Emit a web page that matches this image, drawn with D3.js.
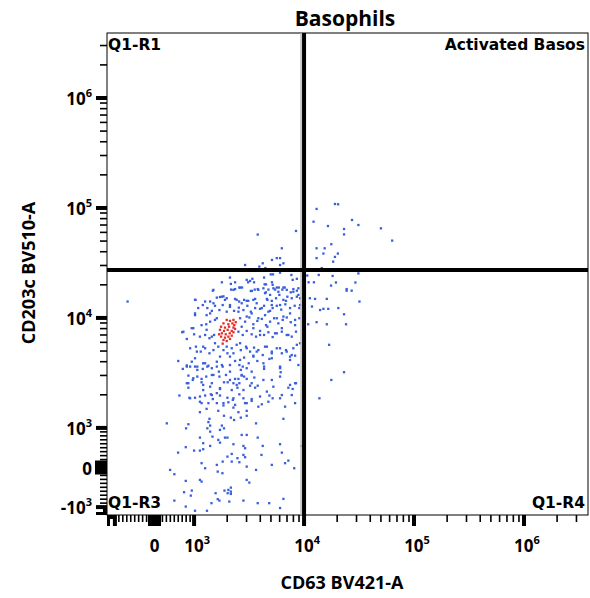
<!DOCTYPE html>
<html>
<head>
<meta charset="utf-8">
<script src="https://cdn.jsdelivr.net/npm/d3@7"></script>
<style>
  body { margin: 0; background: #fff; }
  text { font-family: "Open Sans", sans-serif; font-weight: 700; fill: #000; }
  .qlabel { font-family: "DejaVu Sans", sans-serif; font-size: 15.5px; }
</style>
</head>
<body>
<div id="chart-area"></div>
<script>
// SVG size
var width = 590,
    height = 598;

var plot = {left: 107, right: 588, top: 33, bottom: 515};

// Axis limits (raw intensity) and gates
var xLimits = [-1180, 3.82e6];
var yLimits = [-1180, 3.9e6];
var gateX = 10000;
var gateY = 27300;

var title = "Basophils";
var xTitle = "CD63 BV421-A";
var yTitle = "CD203c BV510-A";

// Tick labels
var xTickLabels = [
    {v: 0, base: "0", sup: ""},
    {v: 1e3, base: "10", sup: "3"},
    {v: 1e4, base: "10", sup: "4"},
    {v: 1e5, base: "10", sup: "5"},
    {v: 1e6, base: "10", sup: "6"}
];
var yTickLabels = [
    {v: -1e3, base: "-10", sup: "3"},
    {v: 0, base: "0", sup: ""},
    {v: 1e3, base: "10", sup: "3"},
    {v: 1e4, base: "10", sup: "4"},
    {v: 1e5, base: "10", sup: "5"},
    {v: 1e6, base: "10", sup: "6"}
];
var majorTicks = [-1000, 1000, 1e4, 1e5, 1e6];

// Quadrant names
var quadrants = [
    {name: "Q1-R1", corner: "tl"},
    {name: "Activated Basos", corner: "tr"},
    {name: "Q1-R3", corner: "bl"},
    {name: "Q1-R4", corner: "br"}
];

// Events [CD63, CD203c]
var blueCells = [
  [19100,108700],[20400,108000],[13000,98000],[12200,75000],[27300,77800],[16500,68500],[31200,70000],[50000,65300],
  [23100,64400],[23100,57500],[63300,50500],[8450,61800],[3790,57300],[17700,46800],[6280,43000],[13000,43000],
  [15400,43000],[15000,38500],[20300,38500],[19100,35900],[13000,35000],[18400,32500],[5650,35000],[6050,35000],
  [5110,33700],[4210,31400],[6490,31400],[6050,30300],[2910,30300],[3920,29300],[4450,28400],[14500,28400],
  [5220,24900],[4980,24900],[6050,25800],[7670,24600],[10700,24300],[13600,24600],[18200,24100],[31200,25400],
  [4330,23300],[2120,23300],[3010,22200],[3230,21700],[3390,22700],[3510,21100],[3100,21100],[7880,22200],
  [8600,22700],[1790,21100],[2160,20400],[2360,21100],[4380,20200],[4510,20200],[5110,21100],[5180,20000],
  [11000,21100],[12300,21100],[19500,21000],[29300,21000],[17600,19700],[5650,18900],[5890,18900],[2580,18900],
  [2730,18900],[6490,18900],[24400,18300],[3790,18300],
  [-680,14100],[1480,17700],[2170,18100],[2360,18300],[3280,17600],[3560,18100],[4270,18600],[4490,17100],
  [4740,18100],[5450,18100],[6350,18100],[6670,18900],[7570,17100],[7990,18300],[8600,17700],[24400,17700],
  [27100,17700],[11300,15100],[12600,14900],[16100,14900],[31900,14100],[1030,14600],[1260,14100],[1400,14100],
  [1500,13600],[1610,15300],[1720,15500],[1850,15700],[1980,15100],[2360,14900],[2570,14100],[2850,14600],
  [3110,14300],[3460,14600],[3710,13600],[4590,14900],[4910,16200],[5090,14300],[5560,15100],[5960,16200],
  [6490,14600],[7050,15600],[7730,15100],[8600,15600],[9200,15100],[11800,12700],[14000,11800],[15000,12100],
  [16600,12100],[20500,12300],[23100,10800],[1020,10600],[1090,12300],[1200,13100],[1320,12300],[1400,11000],
  [1550,12900],[1700,11800],[1820,13100],[1980,11400],[2120,12600],[2310,11600],[2550,12400],[2810,11800],
  [3050,12900],[3280,11400],[3590,12300],[3980,12100],[4330,12900],[4740,11400],[5180,12300],[5650,12900],
  [6200,11900],[6760,13300],[7460,12300],[8220,12900],[9060,12300],[940,8070],[1170,8600],[1290,8760],
  [1400,9250],[1550,9600],[2620,9940],[2910,9250],[3180,10100],[3460,8760],[3760,9400],[4130,9800],
  [4510,8600],[4910,9250],[5340,9940],[5840,8930],[6400,9600],[6960,10100],[7570,9150],[8290,8600],
  [9060,9940],[10900,8760],[13000,9150],[16100,8760],[24100,8760],[700,7410],[816,6440],[1000,7100],
  [1130,6760],[1260,7000],[1380,6540],[1520,7000],[2530,7500],[2770,7000],[3010,7620],[3340,7100],
  [3660,6760],[3980,7620],[4330,7000],[4740,7410],[5180,6700],[5650,7250],[6280,7500],[6960,7000],
  [7730,6760],[8450,7500],[16900,5700],[900,5300],[1040,5480],[1150,4940],[1260,5300],[1380,4770],
  [1500,5100],[1660,5480],[1850,5100],[2010,4770],[2200,5300],[2440,5700],[2660,5100],[2970,5480],
  [3230,4940],[3510,5370],[3840,5100],[4210,4600],[4590,5480],[5090,4940],[5650,5300],[6280,4770],
  [6850,5100],[7730,4600],[8600,5700],[600,4060],[816,3700],[942,4000],[1070,3610],[1210,3870],
  [1350,3680],[1610,4000],[1790,3730],[2120,4450],[2360,4060],[2580,3730],[2850,4360],[3140,3870],
  [3460,4540],[3760,4060],[4330,3610],[4840,4240],[6050,3610],[7460,4450],[8290,4540],
  [715,3440],[900,3610],[1020,3610],[1070,3370],[1200,3440],[1320,3610],[1450,3490],[1610,3610],
  [1680,3250],[1820,3610],[2120,3250],[2660,3370],[2770,3610],[3340,3250],[4330,3440],[6050,3540],
  [6130,3210],[23100,3210],[856,2990],[1070,2930],[1170,2790],[1290,2930],[1450,3030],[1700,2930],
  [1950,3030],[2360,2790],[2530,2790],[2710,2990],[2850,2930],[3010,2790],[3530,2870],[856,2550],
  [967,2730],[1170,2600],[1450,2550],[1870,2600],[2020,2600],[2280,2550],[2580,2550],[5090,2730],
  [8450,2550],[17700,2730],[856,2320],[1210,2210],[1400,2370],[1720,2260],[2200,2210],[2480,2320],
  [2810,2210],[3230,2420],[3590,2320],[3790,2420],[7200,2320],[7880,2260],[629,1970],[881,1880],
  [1020,1880],[1130,1930],[1260,1970],[1420,2020],[1480,1830],[1610,2070],[1720,1970],[2010,1880],
  [2250,1800],[2580,2020],[2810,1860],[3340,1830],[4590,2140],[4840,1970],[5180,1860],[6280,1990],
  [7730,1990],[13800,1860],[1170,1680],[1350,1680],[1610,1680],[1850,1600],[2050,1710],[2360,1620],
  [2910,1680],[3340,1760],[3840,1560],[4130,1640],[6720,1560],[1130,1390],[1300,1490],[1660,1430],
  [2280,1530],[3010,1430],[2530,1390],[1380,1210],[1870,1290],[2160,1240],[2310,1180],[2660,1240],
  [3010,1290],[6490,1210],[311,1100],[856,1080],[798,990],[1350,1130],[1400,1050],[1320,990],
  [1790,1050],[1870,990],[1720,950],[3660,1100],[1400,906],[2710,823],[3010,823],[1130,755],
  [1470,780],[1660,697],[1910,755],[2010,755],[3790,755],[1210,614],[2280,588],[6050,588],
  [1400,545],[1720,629],[2810,545],[2910,487],[4210,545],[6280,376],[9500,545],[790,513],
  [1000,427],[1130,427],[1210,462],[596,376],[2010,275],[2200,343],[2480,235],[2810,318],
  [2910,260],[4100,318],[1170,109],[1610,66],[1820,149],[2200,149],[2580,134],[3010,23],
  [5090,66],[6720,109],[7200,174],[8140,-18],[394,-61],[502,-169],[1260,-18],[1640,-104],
  [1810,-144],[3660,-61],[790,-338],[1130,-313],[1170,-356],[3010,-313],[3180,-381],[747,-624],
  [942,-583],[917,-710],[1570,-649],[1890,-583],[2050,-566],[2160,-508],[2160,-609],[2160,-667],
  [2020,-649],[502,-836],[1640,-800],[1700,-836],[2090,-861],[2810,-836],[3790,-901],[4820,-901],
  [6490,-793],[790,-987],[1020,-1080],[1310,-1080],[1440,-901],[6050,-1020],
  // denser core
  [1500,18000],[2280,18000],[2620,18900],[3350,17600],[3840,18000],[4420,16800],[5260,18600],[5840,17300],
  [6960,18000],[7990,17300],[8880,16200],[8880,18600],[1020,14600],[1790,15600],[1910,14600],[2120,13100],
  [2440,14600],[2710,13600],[3010,14300],[3590,14900],[4130,12300],[4640,14600],[5090,13100],[6050,13100],
  [6850,14300],[9200,13100],[1020,11000],[1300,10600],[1450,11600],[1610,9940],[2530,11400],[3010,10300],
  [3340,11000],[3840,9940],[4420,10600],[4910,11600],[5650,9940],[6490,10300],[7460,11000],[8290,9600],
  [730,7500],[980,8070],[1300,7800],[1450,6760],[2710,8320],[3460,8070],[3980,7000],[4640,8320],
  [5450,7250],[6280,8070],[7200,7000],[1060,4940],[1210,5480],[1550,5890],[1980,5480],[2280,4770],
  [2620,5890],[3010,5300],[3710,4940],[4420,5480],[5090,4770],[6050,5300],[6960,4940],[7990,5300],
  [9200,5890],[816,3610],[1020,4300],[1260,3870],[1720,4450],[2120,3730],[2620,4150],[3010,3490],
  [3460,4450],[4270,3870],[5090,4300],[6050,3490],[7460,4150],[8880,3730],[816,2550],[980,2830],
  [1210,2460],[1500,3030],[1720,2300],[2120,2730],[2440,2460],[2710,3030],[3340,2550],[4270,2730],
  [5260,2370],[6050,2930],[7460,2460],[8290,2550],[900,1860],[1130,1730],[1450,1990],[1850,1680],
  [2280,1860],[3010,1680],[3980,1930],[4740,1730],[6050,1860],[8290,1680]
];

var redCells = [
  [1980,9600],[2120,9400],[2280,9600],[1850,8930],[2050,8760],[2230,8930],[2390,9150],[1760,8320],
  [1910,8170],[2080,8320],[2280,8170],[1720,7800],[1870,7620],[2020,7800],[2200,7620],[2360,7940],
  [1790,7250],[1940,7100],[2110,7250],[2280,7410],[1760,6760],[1910,6620],[2050,6760],[2200,6900],
  [1850,6300],[1980,6170],[1820,5840],[2120,6440],[1690,7100],[2320,8600]
];

// Biexponential-like display transform: linear around zero, log above 10^3
var LIN = 0.36;
function tr(v) {
    var a = Math.abs(v);
    return a <= 1000 ? LIN * v / 1000 : Math.sign(v) * (LIN + Math.log10(a / 1000));
}

var xs = d3.scaleLinear().domain(xLimits.map(tr)).range([plot.left, plot.right]);
var ys = d3.scaleLinear().domain(yLimits.map(tr)).range([plot.bottom, plot.top]);
var x = function(v) { return xs(tr(v)); };
var y = function(v) { return ys(tr(v)); };

// minor tick values: linear between -10^3 and 10^3, log for decades
function minorTicks(lim) {
    var out = [];
    d3.range(-900, 1000, 100).forEach(function(v) { if (v !== 0) out.push(v); });
    [1e3, 1e4, 1e5, 1e6].forEach(function(dec) {
        d3.range(2, 10).forEach(function(k) { if (k * dec < lim) out.push(k * dec); });
    });
    return out;
}

var svg = d3.select("#chart-area")
    .append("svg")
    .attr("width", width)
    .attr("height", height);

// Frame
svg.append("rect")
    .attr("x", plot.left).attr("y", plot.top)
    .attr("width", plot.right - plot.left).attr("height", plot.bottom - plot.top)
    .attr("fill", "none").attr("stroke", "#000").attr("stroke-width", 1);

// Events
var dot = 2.3;
svg.append("g").selectAll("rect")
    .data(blueCells)
    .enter().append("rect")
    .attr("x", d => x(d[0]) - dot / 2)
    .attr("y", d => y(d[1]) - dot / 2)
    .attr("width", dot).attr("height", dot)
    .attr("fill", "#3a5fdc");

svg.append("g").selectAll("rect")
    .data(redCells)
    .enter().append("rect")
    .attr("x", d => x(d[0]) - dot / 2)
    .attr("y", d => y(d[1]) - dot / 2)
    .attr("width", dot).attr("height", dot)
    .attr("fill", "#e2302c");

// Quadrant gates
svg.append("line")
    .attr("x1", x(gateX) - 3).attr("x2", x(gateX) - 3)
    .attr("y1", plot.top).attr("y2", plot.bottom)
    .attr("stroke", "#bbb").attr("stroke-width", 1.5);
svg.append("line")
    .attr("x1", x(gateX)).attr("x2", x(gateX))
    .attr("y1", plot.top).attr("y2", plot.bottom)
    .attr("stroke", "#000").attr("stroke-width", 4);
svg.append("line")
    .attr("x1", plot.left).attr("x2", plot.right)
    .attr("y1", y(gateY)).attr("y2", y(gateY))
    .attr("stroke", "#000").attr("stroke-width", 4);

// X axis ticks
var xAxis = svg.append("g").attr("class", "x-axis");
xAxis.selectAll(".minor")
    .data(minorTicks(xLimits[1]))
    .enter().append("line")
    .attr("x1", d => x(d)).attr("x2", d => x(d))
    .attr("y1", plot.bottom).attr("y2", plot.bottom + 7)
    .attr("stroke", "#000").attr("stroke-width", 1.6);
xAxis.selectAll(".major")
    .data(majorTicks)
    .enter().append("line")
    .attr("x1", d => x(d)).attr("x2", d => x(d))
    .attr("y1", plot.bottom).attr("y2", plot.bottom + 11)
    .attr("stroke", "#000").attr("stroke-width", 4);
xAxis.append("line")
    .attr("x1", x(0)).attr("x2", x(0))
    .attr("y1", plot.bottom).attr("y2", plot.bottom + 11)
    .attr("stroke", "#000").attr("stroke-width", 13);
xAxis.append("line")
    .attr("x1", plot.left + 1.5).attr("x2", plot.left + 1.5)
    .attr("y1", plot.bottom).attr("y2", plot.bottom + 11)
    .attr("stroke", "#000").attr("stroke-width", 3);
xAxis.append("line")
    .attr("x1", plot.left).attr("x2", x(-1000))
    .attr("y1", plot.bottom + 2).attr("y2", plot.bottom + 2)
    .attr("stroke", "#000").attr("stroke-width", 4);

var xl = xAxis.selectAll(".lbl")
    .data(xTickLabels)
    .enter().append("text")
    .attr("x", d => x(d.v) + (d.sup ? 3 : 0))
    .attr("y", 552)
    .attr("text-anchor", "middle")
    .style("font-size", "17px");
xl.append("tspan").text(d => d.base);
xl.append("tspan").attr("dy", -8).style("font-size", "11px").text(d => d.sup);

// Y axis ticks
var yAxis = svg.append("g").attr("class", "y-axis");
yAxis.selectAll(".minor")
    .data(minorTicks(yLimits[1]))
    .enter().append("line")
    .attr("y1", d => y(d)).attr("y2", d => y(d))
    .attr("x1", plot.left).attr("x2", plot.left - 7)
    .attr("stroke", "#000").attr("stroke-width", 1.6);
yAxis.selectAll(".major")
    .data(majorTicks)
    .enter().append("line")
    .attr("y1", d => y(d)).attr("y2", d => y(d))
    .attr("x1", plot.left).attr("x2", plot.left - 11)
    .attr("stroke", "#000").attr("stroke-width", 4);
yAxis.append("line")
    .attr("y1", y(0)).attr("y2", y(0))
    .attr("x1", plot.left).attr("x2", plot.left - 12)
    .attr("stroke", "#000").attr("stroke-width", 14);
yAxis.append("line")
    .attr("y1", plot.bottom - 1.5).attr("y2", plot.bottom - 1.5)
    .attr("x1", plot.left).attr("x2", plot.left - 11)
    .attr("stroke", "#000").attr("stroke-width", 3);
yAxis.append("line")
    .attr("x1", plot.left - 2).attr("x2", plot.left - 2)
    .attr("y1", y(-1000)).attr("y2", plot.bottom)
    .attr("stroke", "#000").attr("stroke-width", 4);

var yl = yAxis.selectAll(".lbl")
    .data(yTickLabels)
    .enter().append("text")
    .attr("x", 92)
    .attr("y", d => y(d.v) + 7)
    .attr("text-anchor", "end")
    .style("font-size", "17px");
yl.append("tspan").text(d => d.base);
yl.append("tspan").attr("dy", -8).style("font-size", "11px").text(d => d.sup);

// Quadrant labels
svg.selectAll(".qlabel")
    .data(quadrants)
    .enter().append("text")
    .attr("class", "qlabel")
    .attr("x", d => d.corner[1] === "l" ? plot.left + 1 : plot.right - 3)
    .attr("y", d => d.corner[0] === "t" ? plot.top + 17 : plot.bottom - 7)
    .attr("text-anchor", d => d.corner[1] === "l" ? "start" : "end")
    .text(d => d.name);

// Titles
svg.append("text")
    .attr("x", 345).attr("y", 26)
    .attr("text-anchor", "middle")
    .style("font-size", "21px")
    .text(title);

svg.append("text")
    .attr("text-anchor", "middle")
    .attr("transform", "translate(342,589)")
    .style("font-size", "18px")
    .text(xTitle);

svg.append("text")
    .attr("text-anchor", "middle")
    .attr("transform", "translate(35,273)rotate(-90)")
    .style("font-size", "18px")
    .text(yTitle);
</script>
</body>
</html>
